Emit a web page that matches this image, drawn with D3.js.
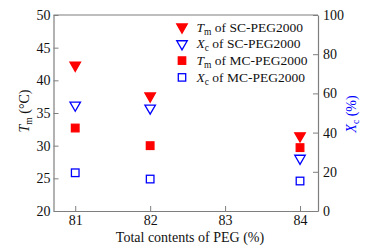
<!DOCTYPE html>
<html>
<head>
<meta charset="utf-8">
<script src="https://cdn.jsdelivr.net/npm/d3@7"></script>
<style>
  body { margin: 0; background: #fff; }
</style>
</head>
<body>
<script>
var peg = [81, 82, 84];
var tmSC = [42.3, 37.6, 31.5];
var xcSC = [54.0, 52.5, 26.9];
var tmMC = [32.7, 30.0, 29.7];
var xcMC = [19.5, 16.3, 15.3];
var xTicks = [81, 82, 83, 84];
var tmTicks = [20, 25, 30, 35, 40, 45, 50];
var xcTicks = [0, 20, 40, 60, 80, 100];

var width = 368, height = 248;
var margin = {left: 53.5, right: 50, top: 15, bottom: 37};
var w = width - margin.left - margin.right;
var h = height - margin.top - margin.bottom;
var serif = "Liberation Serif";

var svg = d3.select("body").append("svg").attr("width", width).attr("height", height);
var g = svg.append("g").attr("transform", "translate(" + margin.left + "," + margin.top + ")");

var x = d3.scaleLinear().domain([80.71, 84.24]).range([0, w]);
var yL = d3.scaleLinear().domain([20, 50]).range([h, 0]);
var yR = d3.scaleLinear().domain([0, 100]).range([h, 0]);

var axisColor = "#7f7f7f";

// frame top
g.append("line").attr("x1", 0).attr("x2", w).attr("y1", 0).attr("y2", 0)
  .attr("stroke", axisColor).attr("stroke-width", 1.2);

var ax = g.append("g").attr("transform", "translate(0," + h + ")")
  .call(d3.axisBottom(x).tickValues(xTicks).tickSizeInner(-5).tickSizeOuter(0).tickPadding(4).tickFormat(d3.format("d")));
var al = g.append("g")
  .call(d3.axisLeft(yL).tickValues(tmTicks).tickSizeInner(-5).tickSizeOuter(0).tickPadding(3));
var ar = g.append("g").attr("transform", "translate(" + w + ",0)")
  .call(d3.axisRight(yR).tickValues(xcTicks).tickSizeInner(-5).tickSizeOuter(0).tickPadding(5));

[ax, al, ar].forEach(function(a) {
  a.select(".domain").attr("stroke", axisColor).attr("stroke-width", 1.2);
  a.selectAll(".tick line").attr("stroke", axisColor);
  a.selectAll(".tick text").attr("fill", "#111").attr("font-size", 14);
});

var tri = d3.symbol().type(d3.symbolTriangle).size(48);
function addTri(vals, scale, fill, stroke) {
  g.selectAll(null).data(vals).enter().append("path")
    .attr("d", tri)
    .attr("transform", function(d, i) { return "translate(" + x(peg[i]) + "," + scale(d) + ") rotate(180)"; })
    .attr("fill", fill).attr("stroke", stroke).attr("stroke-width", 1.3);
}
function addSq(vals, scale, fill, stroke) {
  g.selectAll(null).data(vals).enter().append("rect")
    .attr("x", function(d, i) { return x(peg[i]) - 3.8; })
    .attr("y", function(d) { return scale(d) - 3.8; })
    .attr("width", 7.6).attr("height", 7.6)
    .attr("fill", fill).attr("stroke", stroke).attr("stroke-width", 1.3);
}
addTri(tmSC, yL, "#ff0000", "#ff0000");
addTri(xcSC, yR, "none", "#0000ff");
addSq(tmMC, yL, "#ff0000", "#ff0000");
addSq(xcMC, yR, "none", "#0000ff");

// legend
var leg = [
  {v: "T", s: "m", rest: " of SC-PEG2000", kind: "tri", fill: "#ff0000", stroke: "#ff0000"},
  {v: "X", s: "c", rest: " of SC-PEG2000", kind: "tri", fill: "none", stroke: "#0000ff"},
  {v: "T", s: "m", rest: " of MC-PEG2000", kind: "sq", fill: "#ff0000", stroke: "#ff0000"},
  {v: "X", s: "c", rest: " of MC-PEG2000", kind: "sq", fill: "none", stroke: "#0000ff"}
];
var lg = svg.append("g");
leg.forEach(function(d, i) {
  var yy = 27 + i * 16.8;
  if (d.kind === "tri") {
    lg.append("path").attr("d", tri).attr("transform", "translate(182," + yy + ") rotate(180)")
      .attr("fill", d.fill).attr("stroke", d.stroke).attr("stroke-width", 1.3);
  } else {
    lg.append("rect").attr("x", 178.3).attr("y", yy - 3.7).attr("width", 7.4).attr("height", 7.4)
      .attr("fill", d.fill).attr("stroke", d.stroke).attr("stroke-width", 1.3);
  }
  var t = lg.append("text").attr("x", 196.5).attr("y", yy + 4.5).attr("font-size", 13.5).attr("fill", "#111");
  t.append("tspan").attr("font-style", "italic").text(d.v);
  t.append("tspan").attr("font-size", 9.5).attr("dy", 3).text(d.s);
  t.append("tspan").attr("dy", -3).text(d.rest);
});

// axis titles
svg.append("text").attr("x", 190).attr("y", 242)
  .attr("text-anchor", "middle").attr("font-size", 14).attr("fill", "#111")
  .text("Total contents of PEG (%)");

var tl = svg.append("text").attr("transform", "translate(28.5,111) rotate(-90)")
  .attr("text-anchor", "middle").attr("font-size", 14).attr("fill", "#111");
tl.append("tspan").attr("font-style", "italic").text("T");
tl.append("tspan").attr("font-size", 9.5).attr("dy", 3).text("m");
tl.append("tspan").attr("dy", -3).text(" (\u00b0C)");

var rl = svg.append("text").attr("transform", "translate(356,114) rotate(-90)")
  .attr("text-anchor", "middle").attr("font-size", 14).attr("fill", "#0000ff");
rl.append("tspan").attr("font-style", "italic").text("X");
rl.append("tspan").attr("font-size", 9.5).attr("dy", 3).text("c");
rl.append("tspan").attr("dy", -3).text(" (%)");

// serif everywhere
svg.selectAll("text, tspan").attr("font-family", serif);
</script>
</body>
</html>
